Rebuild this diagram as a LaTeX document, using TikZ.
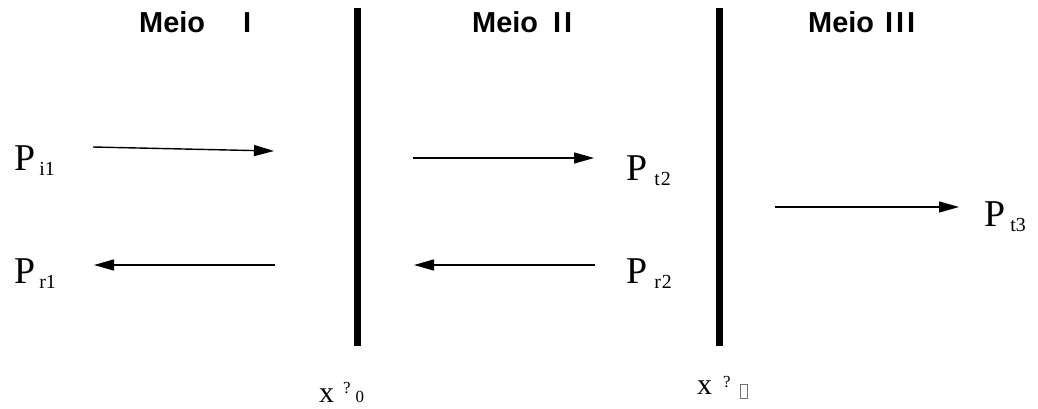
\documentclass[tikz,border=0pt]{standalone}
\usepackage{fontspec}
\setmainfont{Liberation Serif}
\newfontfamily\titlefont{Liberation Sans}
\usetikzlibrary{arrows.meta}
\tikzset{
  wall/.style={line width=7bp},
  ray/.style={line width=1.4bp,-{Triangle[length=20bp,width=11bp]}},
  title/.style={anchor=base west,inner sep=0pt,font=\titlefont\bfseries\fontsize{29}{32}\selectfont},
  plabel/.style={anchor=base west,inner sep=0pt,font=\fontsize{38}{40}\selectfont},
  xlabel/.style={anchor=base west,inner sep=0pt,font=\fontsize{30}{32}\selectfont}
}
\newcommand{\subs}[2]{\hspace{#1}\raisebox{-5bp}{\fontsize{20}{20}\selectfont #2}}
\newcommand{\smq}[1]{{\fontsize{17}{18}\selectfont #1}}
\begin{document}
\begin{tikzpicture}[x=1bp,y=-1bp]
\useasboundingbox (0,0) rectangle (1038,408);
% walls
\coordinate (w1t) at (357,8); \coordinate (w1b) at (357,346);
\coordinate (w2t) at (719,8); \coordinate (w2b) at (719,346);
\draw[wall] (w1t) -- (w1b);
\draw[wall] (w2t) -- (w2b);
% titles
\node[title] (t1) at (139,32) {Meio\hspace{38bp}I};
\node[title] (t2) at (472,32) {Meio\hspace{15bp}I\kern3bp I};
\node[title] (t3) at (808,32) {Meio\hspace{11bp}I\kern3bp I\kern3bp I};
% labels
\node[plabel] (pi1) at (14,170) {P\subs{4bp}{i1}};
\node[plabel] (pr1) at (14,283) {P\subs{4bp}{r1}};
\node[plabel] (pt2) at (626,180) {P\subs{7bp}{t\kern1bp 2}};
\node[plabel] (pr2) at (626,283) {P\subs{7bp}{r\kern1bp 2}};
\node[plabel] (pt3) at (984,226) {P\subs{5bp}{t3}};
% arrows
\coordinate (a1s) at (93,147); \coordinate (a1e) at (274,151);
\coordinate (a2s) at (275,265); \coordinate (a2e) at (94,265);
\coordinate (a3s) at (413,158); \coordinate (a3e) at (594,158);
\coordinate (a4s) at (595,265); \coordinate (a4e) at (414,265);
\coordinate (a5s) at (775,207); \coordinate (a5e) at (959,207);
\draw[ray] (a1s) -- (a1e);
\draw[ray] (a2s) -- (a2e);
\draw[ray] (a3s) -- (a3e);
\draw[ray] (a4s) -- (a4e);
\draw[ray] (a5s) -- (a5e);
% bottom labels
\node[xlabel] (x1) at (319,402) {x\hspace{9bp}\raisebox{9bp}{\smq{?}}\hspace{5bp}\smq{0}};
\node[xlabel] (x2) at (697,394) {x\hspace{11bp}\raisebox{7bp}{\smq{?}}\hspace{9bp}\raisebox{-4bp}{\color{black!55}\setlength{\fboxsep}{0pt}\setlength{\fboxrule}{0.6bp}\fbox{\rule{0pt}{13bp}\hspace{7bp}}}};
\end{tikzpicture}
\end{document}
